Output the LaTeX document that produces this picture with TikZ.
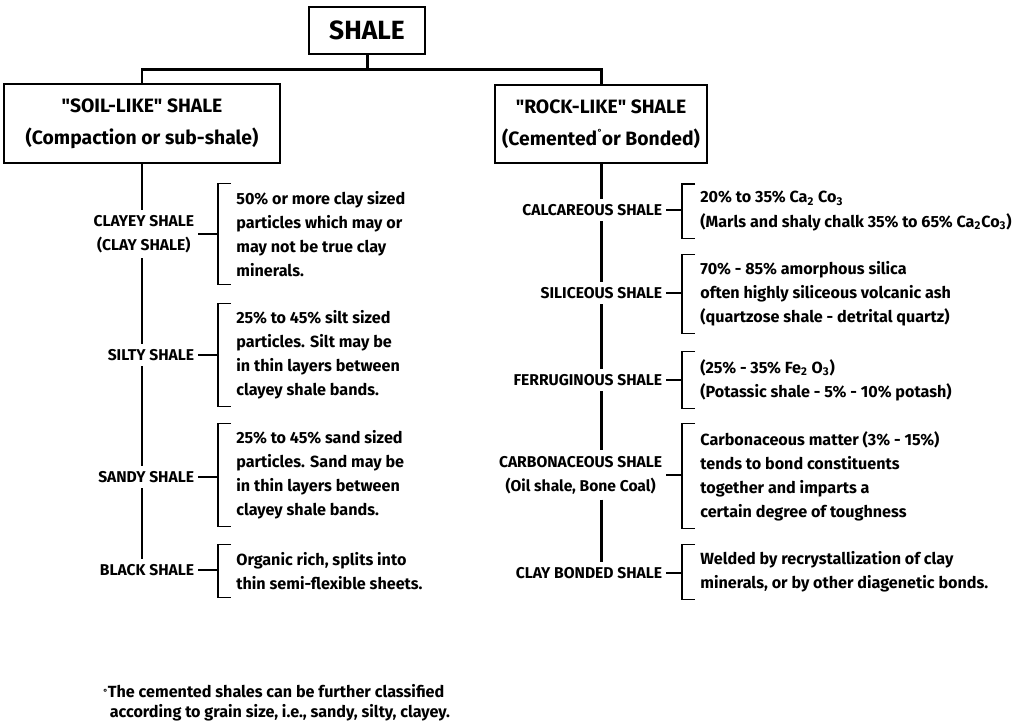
\documentclass[tikz,border=0pt]{standalone}
\usepackage{fontspec}
\setmainfont{Fira Sans}
\usetikzlibrary{calc,positioning}

\begin{document}
\begin{tikzpicture}[x=0.02cm,y=-0.02cm]

\tikzstyle{shalebox} = [rectangle,draw=black,line width=1.6pt,inner sep=0,align=center,font=\fontsize{11}{18}\selectfont\bfseries]%
\tikzstyle{shaletype} = [inner xsep=2pt,inner ysep=3pt,align=center,font=\fontsize{8.9}{13.7}\selectfont\bfseries]%
\tikzstyle{shaledesc} = [inner xsep=0,inner ysep=4pt,align=left,font=\fontsize{9.2}{13.7}\selectfont\bfseries]%
\tikzstyle{shaletrunk} = [line width=1.7pt]%
\tikzstyle{shalebrace} = [line width=0.6pt]%
\tikzstyle{shaletick} = [line width=0.8pt]%

\useasboundingbox (0,0) rectangle (1023,724);

\node[shalebox,minimum width=2.32cm,minimum height=0.94cm,font=\fontsize{15}{18}\selectfont\bfseries] (shale) at (367,30.5) {SHALE};
\node[shalebox,minimum width=5.52cm,minimum height=1.58cm] (soil) at (142,123.5) {\textquotedbl SOIL-LIKE\textquotedbl{} SHALE\\(Compaction or sub-shale)};
\node[shalebox,minimum width=4.24cm,minimum height=1.56cm] (rock) at (601,124) {\textquotedbl ROCK-LIKE\textquotedbl{} SHALE\\(Cemented\makebox[0pt]{\hspace{0.28em}\raisebox{0.9ex}{\tiny °}} or Bonded)};
\coordinate (split) at (367,69.5);

\draw[shaletrunk] (shale.south) -- (split);
\draw[shaletrunk] (soil.north) |- (split) -| (rock.north);

% soil-like shales
\node[shaletype,anchor=east] (clayey) at (198,234) {CLAYEY SHALE\\(CLAY SHALE)};
\node[shaletype,anchor=east] (silty) at (198,355) {SILTY SHALE};
\node[shaletype,anchor=east] (sandy) at (198,477) {SANDY SHALE};
\node[shaletype,anchor=east] (black) at (198,570) {BLACK SHALE};

\node[shaledesc,anchor=west] (clayeyd) at (236,234) {50\% or more clay sized\\particles which may or\\may not be true clay\\minerals.};
\node[shaledesc,anchor=west] (siltyd) at (236,355) {25\% to 45\% silt sized\\particles. Silt may be\\in thin layers between\\clayey shale bands.};
\node[shaledesc,anchor=west] (sandyd) at (236,475) {25\% to 45\% sand sized\\particles. Sand may be\\in thin layers between\\clayey shale bands.};
\node[shaledesc,anchor=west] (blackd) at (236,571) {Organic rich, splits into\\thin semi-flexible sheets.};

\draw[shaletrunk] (soil.south) -- (soil.south |- clayey.north);
\draw[shaletrunk] (soil.south |- clayey.south) -- (soil.south |- silty.north);
\draw[shaletrunk] (soil.south |- silty.south) -- (soil.south |- sandy.north);
\draw[shaletrunk] (soil.south |- sandy.south) -- (soil.south |- black.north);

\draw[shaletick] (clayey.east) -- ($(clayey.east -| clayeyd.west)+(-18,0)$);
\draw[shaletick] (silty.east) -- ($(silty.east -| siltyd.west)+(-18,0)$);
\draw[shaletick] (sandy.east) -- ($(sandy.east -| sandyd.west)+(-18,0)$);
\draw[shaletick] (black.east) -- ($(black.east -| blackd.west)+(-18,0)$);

\draw[shalebrace] ($(clayeyd.north west)+(-5,0)$) -| ($(clayeyd.west)+(-18,0)$) |- ($(clayeyd.south west)+(-5,0)$);
\draw[shalebrace] ($(siltyd.north west)+(-5,0)$) -| ($(siltyd.west)+(-18,0)$) |- ($(siltyd.south west)+(-5,0)$);
\draw[shalebrace] ($(sandyd.north west)+(-5,0)$) -| ($(sandyd.west)+(-18,0)$) |- ($(sandyd.south west)+(-5,0)$);
\draw[shalebrace] ($(blackd.north west)+(-5,0)$) -| ($(blackd.west)+(-18,0)$) |- ($(blackd.south west)+(-5,0)$);

% rock-like shales
\node[shaletype,anchor=east] (calc) at (666,210) {CALCAREOUS SHALE};
\node[shaletype,anchor=east] (sil) at (666,293) {SILICEOUS SHALE};
\node[shaletype,anchor=east] (ferr) at (666,380) {FERRUGINOUS SHALE};
\node[shaletype,anchor=east] (carb) at (666,475) {CARBONACEOUS SHALE\\(Oil shale, Bone Coal)};
\node[shaletype,anchor=east] (bond) at (666,573) {CLAY BONDED SHALE};

\node[shaledesc,anchor=west] (calcd) at (700,211) {20\% to 35\% Ca\textsubscript{2} Co\textsubscript{3}\\(Marls and shaly chalk 35\% to 65\% Ca\textsubscript{2}Co\textsubscript{3})};
\node[shaledesc,anchor=west] (sild) at (700,294) {70\% - 85\% amorphous silica\\often highly siliceous volcanic ash\\(quartzose shale - detrital quartz)};
\node[shaledesc,anchor=west] (ferrd) at (700,380) {(25\% - 35\% Fe\textsubscript{2} O\textsubscript{3})\\(Potassic shale - 5\% - 10\% potash)};
\node[shaledesc,anchor=west] (carbd) at (700,476) {Carbonaceous matter (3\% - 15\%)\\tends to bond constituents\\together and imparts a\\certain degree of toughness};
\node[shaledesc,anchor=west] (bondd) at (700,572) {Welded by recrystallization of clay\\minerals, or by other diagenetic bonds.};

\draw[shaletrunk] (rock.south) -- (rock.south |- calc.north);
\draw[shaletrunk] (rock.south |- calc.south) -- (rock.south |- sil.north);
\draw[shaletrunk] (rock.south |- sil.south) -- (rock.south |- ferr.north);
\draw[shaletrunk] (rock.south |- ferr.south) -- (rock.south |- carb.north);
\draw[shaletrunk] (rock.south |- carb.south) -- (rock.south |- bond.north);

\draw[shaletick] (calc.east) -- ($(calc.east -| calcd.west)+(-18,0)$);
\draw[shaletick] (sil.east) -- ($(sil.east -| sild.west)+(-18,0)$);
\draw[shaletick] (ferr.east) -- ($(ferr.east -| ferrd.west)+(-18,0)$);
\draw[shaletick] (carb.east) -- ($(carb.east -| carbd.west)+(-18,0)$);
\draw[shaletick] (bond.east) -- ($(bond.east -| bondd.west)+(-18,0)$);

\draw[shalebrace] ($(calcd.north west)+(-5,0)$) -| ($(calcd.west)+(-18,0)$) |- ($(calcd.south west)+(-5,0)$);
\draw[shalebrace] ($(sild.north west)+(-5,0)$) -| ($(sild.west)+(-18,0)$) |- ($(sild.south west)+(-5,0)$);
\draw[shalebrace] ($(ferrd.north west)+(-5,0)$) -| ($(ferrd.west)+(-18,0)$) |- ($(ferrd.south west)+(-5,0)$);
\draw[shalebrace] ($(carbd.north west)+(-5,0)$) -| ($(carbd.west)+(-18,0)$) |- ($(carbd.south west)+(-5,0)$);
\draw[shalebrace] ($(bondd.north west)+(-5,0)$) -| ($(bondd.west)+(-18,0)$) |- ($(bondd.south west)+(-5,0)$);

% footnote
\node[shaledesc,inner sep=0,font=\fontsize{9.2}{11.4}\selectfont\bfseries,anchor=west] (note) at (103,703) {\raisebox{0.3ex}{\tiny °}The cemented shales can be further classified\\\hspace*{0.4em}according to grain size, i.e., sandy, silty, clayey.};

\end{tikzpicture}
\end{document}
